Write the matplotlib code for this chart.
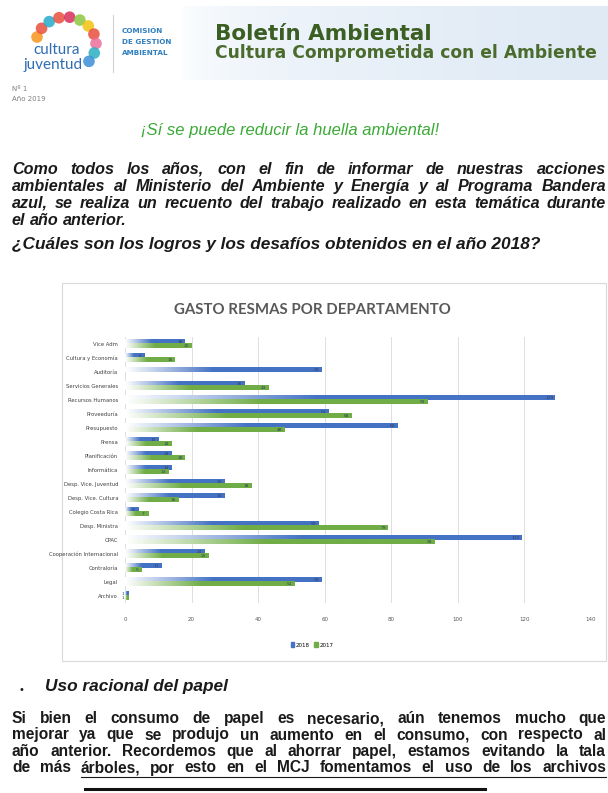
import numpy as np
import matplotlib
matplotlib.use("Agg")
import matplotlib.pyplot as plt
from matplotlib.colors import LinearSegmentedColormap
from matplotlib.patches import Patch, Rectangle

# datos del grafico
departamentos = ["Vice Adm", "Cultura y Economía", "Auditoría", "Servicios Generales",
                 "Recursos Humanos", "Proveeduría", "Presupuesto", "Prensa", "Planificación",
                 "Informática", "Desp. Vice. Juventud", "Desp. Vice. Cultura",
                 "Colegio Costa Rica", "Desp. Ministra", "CPAC", "Cooperación Internacional",
                 "Contraloría", "Legal", "Archivo"]
gasto_2018 = [18, 6, 59, 36, 129, 61, 82, 10, 14, 14, 30, 30, 4, 58, 119, 24, 11, 59, 1]
gasto_2017 = [20, 15, 0, 43, 91, 68, 48, 14, 18, 13, 38, 16, 7, 79, 93, 25, 5, 51, 1]
ticks_x = [0, 20, 40, 60, 80, 100, 120, 140]

parrafo1 = ["Como todos los años, con el fin de informar de nuestras acciones",
            "ambientales al Ministerio del Ambiente y Energía y al Programa Bandera",
            "azul, se realiza un recuento del trabajo realizado en esta temática durante",
            "el año anterior."]
parrafo2 = ["Si bien el consumo de papel es necesario, aún tenemos mucho que",
            "mejorar ya que se produjo un aumento en el consumo, con respecto al",
            "año anterior.  Recordemos que al ahorrar papel, estamos evitando la tala",
            "de más árboles, por esto en el MCJ fomentamos el uso de los archivos"]

AZUL = "#4472c4"
VERDE = "#70ad47"

W, H = 608, 793
fig = plt.figure(figsize=(W / 100, H / 100), dpi=100)
fig.patch.set_facecolor("white")

# eje de pagina en pixeles
pg = fig.add_axes([0, 0, 1, 1])
pg.set_xlim(0, W)
pg.set_ylim(H, 0)
pg.axis("off")

# banda del encabezado
banda = LinearSegmentedColormap.from_list("banda", ["#ffffff", "#edf3fa", "#dfeaf5"])
g = np.linspace(0, 1, 200).reshape(1, -1) ** 0.5
pg.imshow(g, cmap=banda, extent=(180, W, 80, 6), aspect="auto", zorder=0)

# logo (aproximado)
ang = np.linspace(np.radians(165), np.radians(-40), 11)
colores_logo = ["#f7941d", "#e94e3c", "#29a9c9", "#e94e3c", "#d62f5b", "#8dc63f",
                "#f2c40f", "#e94e3c", "#ec6f9b", "#2bb0c4", "#3a8fd8"]
pg.scatter(66 + 30 * np.cos(ang), 44 - 27 * np.sin(ang), s=70, c=colores_logo,
           alpha=0.85, edgecolors="none", zorder=2)
pg.text(57, 50, "cultura", fontsize=11, color="#2f6db3", family="Lato", ha="center",
        va="center", zorder=3)
pg.text(53, 65, "juventud", fontsize=11, color="#2f6db3", family="Lato", ha="center",
        va="center", zorder=3)
pg.plot([113, 113], [15, 72], color="#d0d0d0", lw=0.8)
for i, t in enumerate(["COMISIÓN", "DE GESTIÓN", "AMBIENTAL"]):
    pg.text(122, 31 + i * 11, t, fontsize=5.2, color="#2f7fc0", weight="bold",
            family="DejaVu Sans", va="center")

pg.text(215, 34, "Boletín Ambiental", fontsize=15.5, weight="bold", color="#3b5e22",
        family="DejaVu Sans", va="center")
pg.text(215, 53, "Cultura Comprometida con el Ambiente", fontsize=12.3, weight="bold",
        color="#4a6b2c", family="DejaVu Sans", va="center")
pg.text(12, 89, "Nº 1", fontsize=5, color="#7f7f7f", va="center")
pg.text(12, 99, "Año 2019", fontsize=5, color="#7f7f7f", va="center")

pg.text(290, 130, "¡Sí se puede reducir la huella ambiental!", fontsize=12,
        style="italic", color="#3aaa35", family="Liberation Sans", ha="center", va="center")

renderer = fig.canvas.get_renderer()


def justificar(linea, y, x0, x1, ultima=False, **kw):
    # y es la linea base del renglon
    palabras = linea.split()
    textos = [pg.text(x0, y, p, va="baseline", **kw) for p in palabras]
    anchos = [t.get_window_extent(renderer).width for t in textos]
    sp = pg.text(0, 0, "a a", **kw)
    a1 = pg.text(0, 0, "aa", **kw)
    normal = sp.get_window_extent(renderer).width - a1.get_window_extent(renderer).width
    sp.remove()
    a1.remove()
    if ultima:
        hueco = normal
    else:
        hueco = (x1 - x0 - sum(anchos)) / (len(palabras) - 1)
        hueco = max(hueco, 0.6 * normal)
    x = x0
    pos = []
    for t, a in zip(textos, anchos):
        t.set_x(x)
        pos.append((x, a))
        x += a + hueco
    return pos


estilo1 = dict(fontsize=11.6, weight="bold", style="italic", family="Liberation Sans",
               color="#1a1a1a")
for i, linea in enumerate(parrafo1):
    justificar(linea, 174 + i * 17, 12, 606, ultima=(i == len(parrafo1) - 1), **estilo1)

pg.text(12, 249, "¿Cuáles son los logros y los desafíos obtenidos en el año 2018?",
        va="baseline", **dict(estilo1, fontsize=12.4))

# marco del grafico
pg.add_patch(Rectangle((62, 283), 544, 378, fill=False, edgecolor="#d9d9d9", lw=0.8))
pg.text(312, 310, "GASTO RESMAS POR DEPARTAMENTO", fontsize=10.8, weight="bold",
        color="#595959", family="Lato", ha="center", va="center")

# grafico de barras
ax = fig.add_axes([125 / W, 1 - 603 / H, (591 - 125) / W, (603 - 337) / H])
ax.set_facecolor("none")
y = np.arange(len(departamentos))
alto = 0.32
grad = np.clip(np.linspace(0, 1, 120) / 0.45, 0, 1).reshape(1, -1)
for serie, color, dy in [(gasto_2018, AZUL, -0.16), (gasto_2017, VERDE, 0.16)]:
    cmap = LinearSegmentedColormap.from_list("g", ["#ffffff", color])
    for yi, v in zip(y, serie):
        if v <= 0:
            continue
        ax.imshow(grad, cmap=cmap, vmin=0, vmax=1, aspect="auto", zorder=2,
                  extent=(0, v, yi + dy + alto / 2, yi + dy - alto / 2))
        ax.text(v - 1.5, yi + dy, str(v), fontsize=3.2, color="#33415c", ha="center",
                va="center", zorder=3)
ax.set_xlim(0, 140)
ax.set_ylim(len(departamentos) - 0.5, -0.5)
ax.set_xticks(ticks_x)
ax.set_yticks(y)
ax.set_yticklabels(departamentos, fontsize=3.8, color="#404040")
ax.tick_params(axis="x", labelsize=4, labelcolor="#595959", length=0, pad=10)
ax.tick_params(axis="y", length=0, pad=5)
ax.grid(axis="x", color="#d9d9d9", lw=0.6, zorder=0)
ax.set_axisbelow(True)
for s in ax.spines.values():
    s.set_visible(False)
ax.legend(handles=[Patch(color=AZUL, label="2018"), Patch(color=VERDE, label="2017")],
          loc="center", bbox_to_anchor=(312 / W, 1 - 645 / H),
          bbox_transform=fig.transFigure, ncol=2, frameon=False, fontsize=4,
          handlelength=0.6, handleheight=0.8, columnspacing=0.8, handletextpad=0.3)

# seccion inferior
pg.text(18, 690, "•", fontsize=7, color="#1a1a1a", va="center")
pg.text(45, 687, "Uso racional del papel", fontsize=12.4, weight="bold", style="italic",
        family="Liberation Sans", color="#1a1a1a", va="center")
estilo2 = dict(fontsize=11.2, weight="bold", family="Liberation Sans", color="#1a1a1a")
for i, linea in enumerate(parrafo2):
    pos = justificar(linea, 723 + i * 16.5, 12, 606, **estilo2)
    if i == len(parrafo2) - 1:
        x_ini = pos[2][0]
        x_fin = pos[-1][0] + pos[-1][1]
        pg.plot([x_ini, x_fin], [777, 777], color="#1a1a1a", lw=0.8)
pg.plot([85, 485], [789, 789], color="#111111", lw=2.2)

fig.savefig("out.png", dpi=100)
